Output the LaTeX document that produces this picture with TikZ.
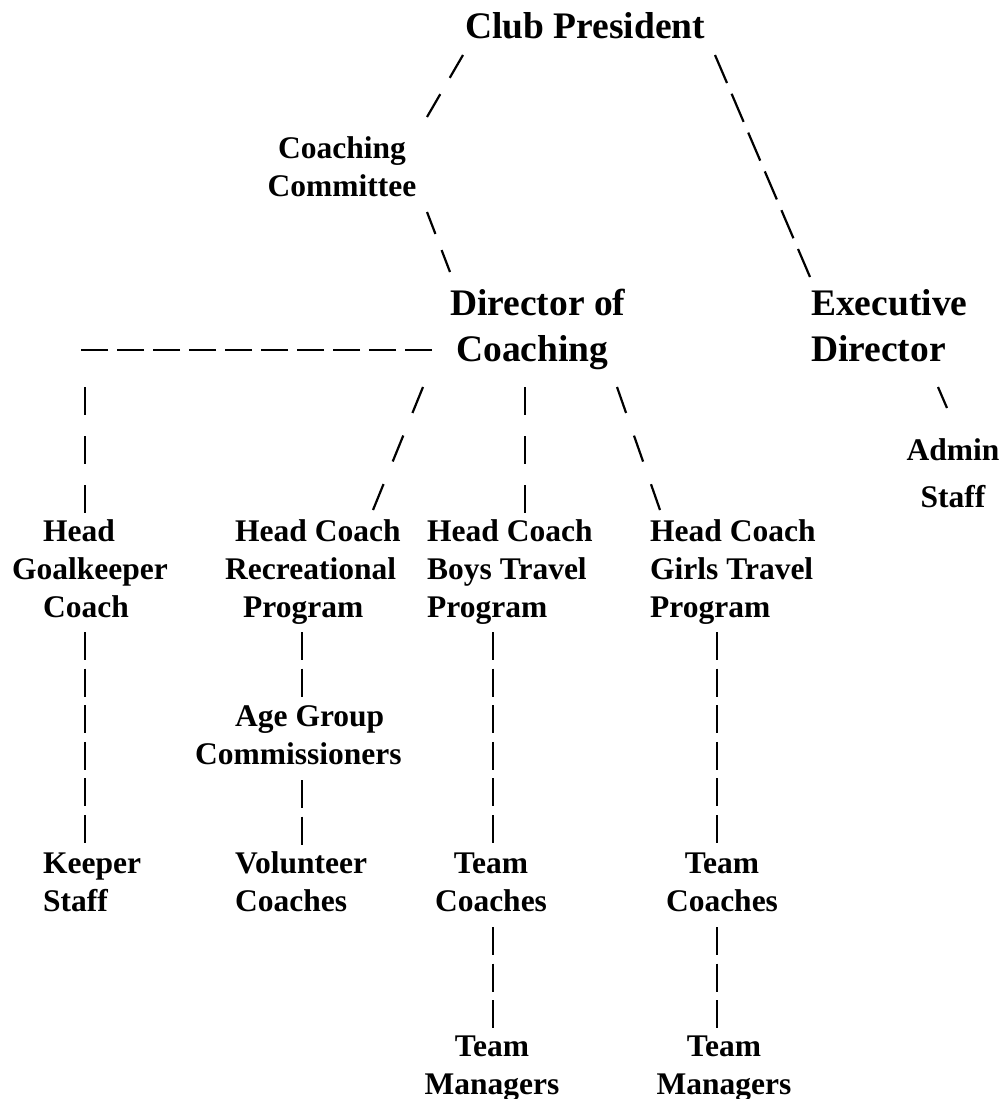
\documentclass[tikz,border=0pt]{standalone}
\usepackage{fontspec}
\setmainfont{Liberation Serif}
\usetikzlibrary{calc}
\begin{document}
\begin{tikzpicture}[x=1pt,y=-1pt,
  labS/.style={font=\fontsize{31.5}{38}\selectfont\bfseries,inner sep=0pt},
  labL/.style={font=\fontsize{37.5}{46}\selectfont\bfseries,inner sep=0pt},
  conn/.style={line width=2.2pt,black},
  barsL/.style={conn,dash pattern=on 28pt off 8.6pt},
  barsU/.style={conn,dash pattern=on 28pt off 21pt}]
\fill[white] (0,0) rectangle (1001,1099);
\useasboundingbox (0,0) rectangle (1001,1099);

% labels (anchor base = baseline of the last line)
\node[labL,anchor=base west] (pres) at (465,39) {Club President};
\node[labS,anchor=base,align=center] (cc) at (342,197) {Coaching\\Committee};
\node[labL,anchor=base west,align=left] (dir) at (450,361) {Director of\\\hspace*{6pt}Coaching};
\node[labL,anchor=base west,align=left] (exec) at (811,361) {Executive\\Director};
\node[labS,anchor=base,align=center] (admin) at (953,507) {Admin\\[9pt]Staff};
\node[labS,anchor=base west,align=left] (gk) at (12,617) {\hspace*{31pt}Head\\Goalkeeper\\\hspace*{31pt}Coach};
\node[labS,anchor=base west,align=left] (rec) at (225,617) {\hspace*{10pt}Head Coach\\Recreational\\\hspace*{18pt}Program};
\node[labS,anchor=base west,align=left] (boys) at (427,617) {Head Coach\\Boys Travel\\Program};
\node[labS,anchor=base west,align=left] (girls) at (650,617) {Head Coach\\Girls Travel\\Program};
\node[labS,anchor=base west,align=left] (age) at (195,764.5) {\hspace*{40pt}Age Group\\Commissioners};
\node[labS,anchor=base west,align=left] (keeper) at (43,911.5) {Keeper\\Staff};
\node[labS,anchor=base west,align=left] (vol) at (235,911.5) {Volunteer\\Coaches};
\node[labS,anchor=base,align=center] (tcb) at (491,911.5) {Team\\Coaches};
\node[labS,anchor=base,align=center] (tcg) at (722,911.5) {Team\\Coaches};
\node[labS,anchor=base,align=center] (tmb) at (492,1094.5) {Team\\Managers};
\node[labS,anchor=base,align=center] (tmg) at (724,1094.5) {Team\\Managers};

% connectors
\draw[conn,dash pattern=on 26.4pt off 18.9pt] ([shift={(-2,16)}]pres.base west) -- ([shift={(85,-80)}]cc.base);
\draw[conn,dash pattern=on 30.5pt off 11.7pt] ([shift={(250,16)}]pres.base west) -- ([shift={(-1,-84)}]exec.base west);
\draw[conn,dash pattern=on 23.5pt off 17.3pt] ([shift={(85,15)}]cc.base) -- ([shift={(0,-89)}]dir.base west);
\coordinate (gkcorner) at (81,350);
\draw[conn,line width=2pt,dash pattern=on 27pt off 9pt] ([shift={(-18,-11)}]dir.base west) -- (gkcorner);
\draw[barsU] ([shift={(4,37)}]gkcorner) -- ([shift={(73,-104)}]gk.base west);
\draw[conn,dash pattern=on 28pt off 24.4pt] ([shift={(-27,26)}]dir.base west) -- ([shift={(148,-107)}]rec.base west);
\draw[barsU] ([shift={(75,26)}]dir.base west) -- ([shift={(98,-104)}]boys.base west);
\draw[conn,dash pattern=on 27.5pt off 24pt] ([shift={(167,26)}]dir.base west) -- ([shift={(10,-107)}]girls.base west);
\draw[conn] ([shift={(127,26)}]exec.base west) -- ([shift={(-6,-99)}]admin.base);
\draw[barsL] ([shift={(73,15)}]gk.base west) -- ([shift={(42,-68.5)}]keeper.base west);
\draw[barsL] ([shift={(77,15)}]rec.base west) -- ([shift={(107,-67.5)}]age.base west);
\draw[barsL] ([shift={(107,15.5)}]age.base west) -- ([shift={(67,-66.5)}]vol.base west);
\draw[barsL] ([shift={(66,15)}]boys.base west) -- ([shift={(2,-68.5)}]tcb.base);
\draw[barsL] ([shift={(67,15)}]girls.base west) -- ([shift={(-5,-68.5)}]tcg.base);
\draw[barsL] ([shift={(2,15.5)}]tcb.base) -- ([shift={(1,-65.5)}]tmb.base);
\draw[barsL] ([shift={(-5,15.5)}]tcg.base) -- ([shift={(-7,-65.5)}]tmg.base);
\end{tikzpicture}
\end{document}
